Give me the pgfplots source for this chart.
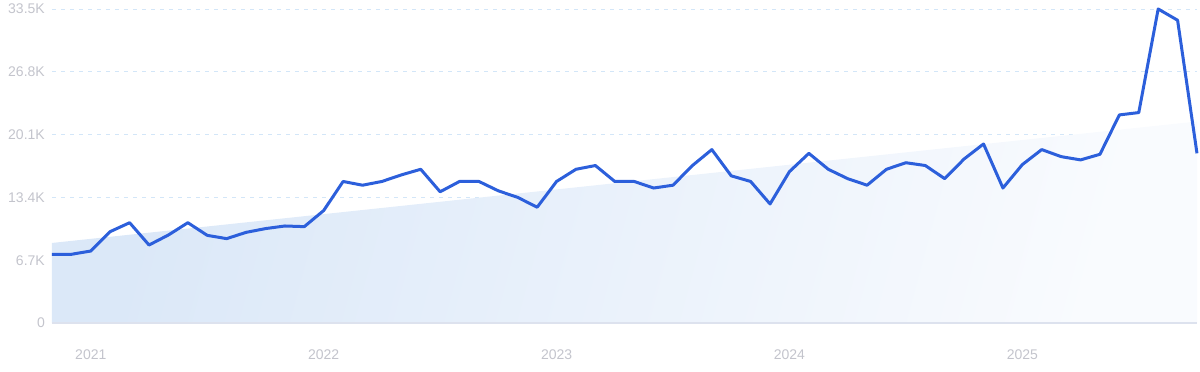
\documentclass[border=0pt]{standalone}
\usepackage{pgfplots}
\pgfplotsset{compat=1.18}
\usepackage{fontspec}
\setmainfont{Liberation Sans}
\definecolor{linec}{HTML}{2C5FDB}
\definecolor{gridc}{HTML}{D3E6F8}
\definecolor{axisc}{HTML}{DDE2EE}
\definecolor{labc}{HTML}{C3C4CC}
\definecolor{fillL}{HTML}{DBE8F8}
\definecolor{fillR}{HTML}{F9FBFE}
\pgfplotstableread{
i v
0 7.33
1 7.33
2 7.68
3 9.75
4 10.7
5 8.32
6 9.39
7 10.7
8 9.35
9 9.0
10 9.67
11 10.07
12 10.35
13 10.28
14 12.0
15 15.1
16 14.7
17 15.1
18 15.8
19 16.4
20 14.0
21 15.1
22 15.1
23 14.1
24 13.4
25 12.35
26 15.1
27 16.4
28 16.8
29 15.1
30 15.1
31 14.4
32 14.7
33 16.8
34 18.5
35 15.7
36 15.1
37 12.7
38 16.15
39 18.1
40 16.4
41 15.4
42 14.7
43 16.4
44 17.1
45 16.8
46 15.4
47 17.5
48 19.1
49 14.4
50 16.9
51 18.5
52 17.75
53 17.4
54 18.0
55 22.2
56 22.45
57 33.5
58 32.3
59 18.1
}\datatable
\pgfplotstableread{
i v
0 8.54
59 21.5
}\trendtable
\begin{document}
\begin{tikzpicture}
\begin{axis}[
  scale only axis,
  width=1145bp, height=314bp,
  xmin=0, xmax=59, ymin=0, ymax=33.5,
  clip=false,
  axis line style={draw=none},
  major tick length=0pt,
  xtick={2,14,26,38,50},
  xticklabels={2021,2022,2023,2024,2025},
  ytick={0,6.7,13.4,20.1,26.8,33.5},
  yticklabels={0,6.7K,13.4K,20.1K,26.8K,33.5K},
  ymajorgrids,
  grid style={gridc, dash pattern=on 4bp off 5bp, line width=0.9bp},
  tick label style={font=\fontsize{14bp}{16bp}\selectfont, text=labc},
  yticklabel style={inner sep=0pt, anchor=east, xshift=-7bp},
  xticklabel style={inner sep=0pt, anchor=center, yshift=-32bp},
]
\addplot[draw=none, left color=fillL, right color=fillR, shading angle=75] table[x=i,y=v]{\trendtable} \closedcycle;
\addplot[axisc, line width=1.2bp, forget plot] coordinates {(0,0) (59,0)};
\addplot[linec, line width=3bp, line join=round, mark=none] table[x=i,y=v]{\datatable};
\end{axis}
\path[use as bounding box] (-52bp,-49bp) rectangle (1148bp,323bp);
\end{tikzpicture}
\end{document}
